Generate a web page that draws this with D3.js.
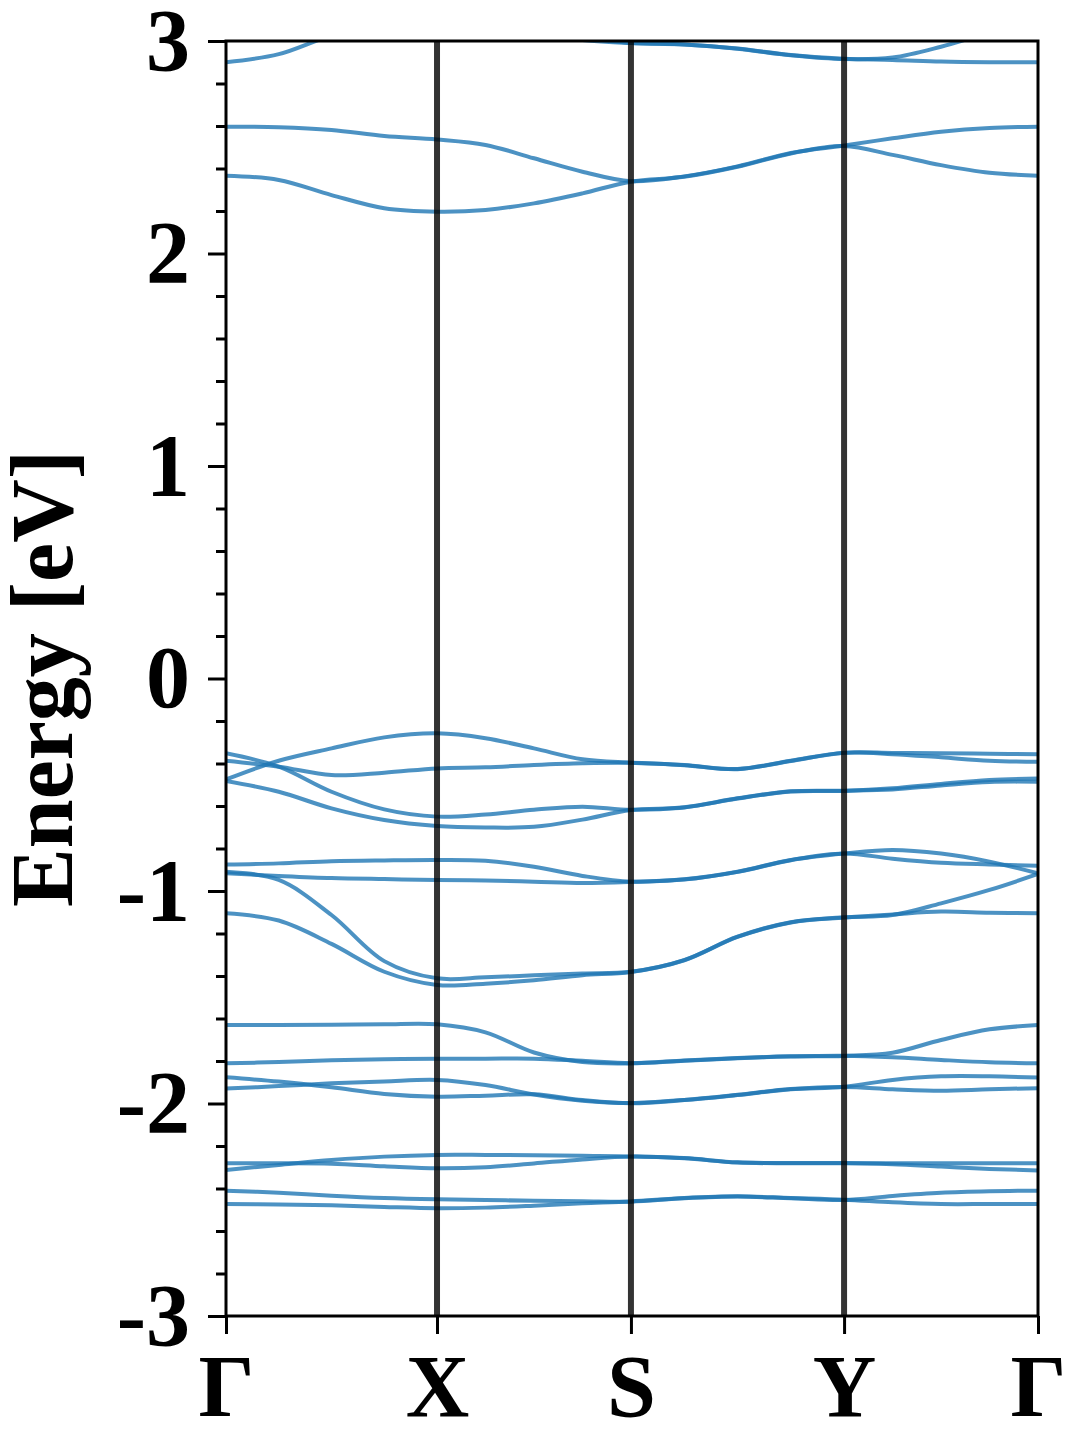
<!DOCTYPE html>
<html>
<head>
<meta charset="utf-8">
<script src="https://cdn.jsdelivr.net/npm/d3@7"></script>
<style>
  html, body { margin: 0; padding: 0; background: #fff; }
  svg { display: block; }
  text { font-family: "Liberation Serif", "Times New Roman", serif; font-weight: bold; fill: #000; }
</style>
</head>
<body>
<svg id="chart" width="1080" height="1440"></svg>
<script>
// ---- data ----
const kLabels = ["Γ", "X", "S", "Y", "Γ"];
const kTicks = [0, 1.000, 1.919, 2.929, 3.848];      // high-symmetry k-distances
const segFractions = [0, 0.25, 0.5, 0.75];             // sample positions inside each segment
const yTickValues = [-3, -2, -1, 0, 1, 2, 3];
const yTickLabels = ["-3", "-2", "-1", "0", "1", "2", "3"];
const yLabel = "Energy [eV]";

// band energies (eV) at the 17 sampled k points along Γ-X-S-Y-Γ
const bandC1 = [2.366, 2.346, 2.275, 2.213, 2.197, 2.205, 2.236, 2.283, 2.338, 2.361, 2.408, 2.471, 2.506, 2.464, 2.416, 2.380, 2.366];
const bandC2 = [2.597, 2.594, 2.581, 2.553, 2.537, 2.511, 2.448, 2.385, 2.340, 2.363, 2.410, 2.473, 2.508, 2.542, 2.573, 2.591, 2.597];
const bandC3 = [2.900, 2.938, 3.025, 3.075, 3.100, 3.080, 3.040, 3.005, 2.990, 2.983, 2.964, 2.933, 2.915, 2.922, 2.973, 3.040, 3.100];
const bandC4 = [3.100, 3.120, 3.150, 3.180, 3.200, 3.150, 3.080, 3.020, 2.991, 2.984, 2.965, 2.934, 2.916, 2.911, 2.903, 2.900, 2.900];
const bandVa = [-0.475, -0.387, -0.329, -0.277, -0.258, -0.281, -0.329, -0.380, -0.396, -0.407, -0.426, -0.387, -0.349, -0.350, -0.352, -0.354, -0.357];
const bandVb = [-0.387, -0.415, -0.454, -0.443, -0.423, -0.418, -0.407, -0.399, -0.397, -0.408, -0.427, -0.388, -0.350, -0.356, -0.371, -0.387, -0.392];
const bandVc = [-0.352, -0.415, -0.533, -0.616, -0.650, -0.640, -0.618, -0.603, -0.618, -0.606, -0.564, -0.531, -0.528, -0.522, -0.503, -0.487, -0.486];
const bandVd = [-0.482, -0.533, -0.611, -0.666, -0.694, -0.701, -0.698, -0.664, -0.619, -0.607, -0.565, -0.532, -0.529, -0.517, -0.496, -0.478, -0.470];
const bandVe = [-0.875, -0.870, -0.860, -0.856, -0.854, -0.858, -0.886, -0.929, -0.956, -0.945, -0.909, -0.854, -0.823, -0.848, -0.867, -0.875, -0.881];
const bandVf = [-0.917, -0.929, -0.939, -0.944, -0.948, -0.951, -0.956, -0.962, -0.957, -0.946, -0.910, -0.855, -0.824, -0.807, -0.824, -0.862, -0.917];
const bandVg = [-0.909, -0.948, -1.113, -1.330, -1.411, -1.406, -1.397, -1.388, -1.380, -1.325, -1.215, -1.147, -1.124, -1.113, -1.058, -0.995, -0.920];
const bandVh = [-1.105, -1.139, -1.249, -1.380, -1.442, -1.436, -1.420, -1.396, -1.381, -1.326, -1.216, -1.148, -1.125, -1.110, -1.097, -1.102, -1.105];
const bandVi = [-1.631, -1.630, -1.629, -1.627, -1.627, -1.665, -1.760, -1.805, -1.811, -1.799, -1.787, -1.779, -1.776, -1.761, -1.701, -1.651, -1.631];
const bandVj = [-1.811, -1.805, -1.797, -1.792, -1.789, -1.789, -1.789, -1.799, -1.810, -1.798, -1.786, -1.778, -1.775, -1.782, -1.795, -1.806, -1.811];
const bandVk = [-1.877, -1.897, -1.924, -1.955, -1.968, -1.963, -1.957, -1.984, -1.999, -1.984, -1.960, -1.933, -1.921, -1.889, -1.872, -1.872, -1.878];
const bandVl = [-1.930, -1.918, -1.905, -1.896, -1.889, -1.913, -1.958, -1.987, -1.998, -1.983, -1.959, -1.932, -1.922, -1.933, -1.940, -1.933, -1.928];
const bandVm = [-2.281, -2.281, -2.283, -2.295, -2.305, -2.300, -2.282, -2.263, -2.250, -2.258, -2.278, -2.281, -2.281, -2.281, -2.281, -2.281, -2.281];
const bandVn = [-2.313, -2.289, -2.266, -2.250, -2.242, -2.242, -2.243, -2.246, -2.249, -2.257, -2.277, -2.280, -2.280, -2.286, -2.297, -2.308, -2.315];
const bandVo = [-2.410, -2.420, -2.434, -2.445, -2.451, -2.454, -2.458, -2.460, -2.462, -2.446, -2.438, -2.446, -2.454, -2.435, -2.420, -2.413, -2.410];
const bandVp = [-2.473, -2.475, -2.479, -2.487, -2.493, -2.490, -2.481, -2.470, -2.461, -2.445, -2.437, -2.445, -2.453, -2.465, -2.473, -2.473, -2.473];

const bands = [bandC1, bandC2, bandC3, bandC4, bandVa, bandVb, bandVc, bandVd, bandVe, bandVf,
               bandVg, bandVh, bandVi, bandVj, bandVk, bandVl, bandVm, bandVn, bandVo, bandVp];

// k grid built from the high-symmetry points
const kGrid = [];
for (let s = 0; s < kTicks.length - 1; s++) {
  segFractions.forEach(f => kGrid.push(kTicks[s] + f * (kTicks[s + 1] - kTicks[s])));
}
kGrid.push(kTicks[kTicks.length - 1]);

// ---- layout ----
const svg = d3.select("#chart");
const plot = { left: 226, right: 1038, top: 41, bottom: 1316 };

const x = d3.scaleLinear().domain([kTicks[0], kTicks[kTicks.length - 1]]).range([plot.left, plot.right]);
const y = d3.scaleLinear().domain([-3, 3]).range([plot.bottom, plot.top]);

svg.append("defs").append("clipPath").attr("id", "clip")
  .append("rect")
  .attr("x", plot.left).attr("y", plot.top)
  .attr("width", plot.right - plot.left).attr("height", plot.bottom - plot.top);

// bands
const line = d3.line()
  .x((d, i) => x(kGrid[i]))
  .y(d => y(d))
  .curve(d3.curveCatmullRom.alpha(0.5));

const bandG = svg.append("g").attr("clip-path", "url(#clip)");
bandG.selectAll("path.band").data(bands).join("path")
  .attr("class", "band")
  .attr("d", line)
  .attr("fill", "none")
  .attr("stroke", "#1f77b4")
  .attr("stroke-opacity", 0.8)
  .attr("stroke-width", 4)
  .attr("stroke-linejoin", "round");

// vertical high-symmetry lines
svg.append("g").selectAll("line.hs").data(kTicks.slice(1, -1)).join("line")
  .attr("class", "hs")
  .attr("x1", d => x(d)).attr("x2", d => x(d))
  .attr("y1", plot.top).attr("y2", plot.bottom)
  .attr("stroke", "#000")
  .attr("stroke-opacity", 0.8)
  .attr("stroke-width", 6);

// y axis (major + minor ticks)
const yAxis = d3.axisLeft(y)
  .tickValues(yTickValues)
  .tickFormat((d, i) => yTickLabels[i])
  .tickSize(18)
  .tickPadding(18);
const yAxisG = svg.append("g").attr("transform", `translate(${plot.left},0)`).call(yAxis);
yAxisG.select(".domain").remove();
yAxisG.selectAll(".tick line").attr("stroke", "#000").attr("stroke-width", 3);
yAxisG.selectAll(".tick text")
  .style("font-family", '"Liberation Serif", "Times New Roman", serif')
  .style("font-weight", "bold")
  .style("font-size", "88px")
  .attr("fill", "#000");

const minorVals = d3.range(-30, 31, 2).map(v => v / 10).filter(v => Math.abs(v - Math.round(v)) > 1e-6);
const yMinor = d3.axisLeft(y).tickValues(minorVals).tickSize(10).tickFormat("");
const yMinorG = svg.append("g").attr("transform", `translate(${plot.left},0)`).call(yMinor);
yMinorG.select(".domain").remove();
yMinorG.selectAll(".tick line").attr("stroke", "#000").attr("stroke-width", 3);

// x axis
const xAxis = d3.axisBottom(x)
  .tickValues(kTicks)
  .tickFormat((d, i) => kLabels[i])
  .tickSize(18)
  .tickPadding(20);
const xAxisG = svg.append("g").attr("transform", `translate(0,${plot.bottom})`).call(xAxis);
xAxisG.select(".domain").remove();
xAxisG.selectAll(".tick line").attr("stroke", "#000").attr("stroke-width", 3);
xAxisG.selectAll(".tick text")
  .style("font-family", '"Liberation Serif", "Times New Roman", serif')
  .style("font-weight", "bold")
  .style("font-size", "88px")
  .attr("fill", "#000");

// frame
svg.append("rect")
  .attr("x", plot.left).attr("y", plot.top)
  .attr("width", plot.right - plot.left).attr("height", plot.bottom - plot.top)
  .attr("fill", "none").attr("stroke", "#000").attr("stroke-width", 3);

// y label
svg.append("text")
  .attr("transform", `translate(72, ${(plot.top + plot.bottom) / 2}) rotate(-90)`)
  .attr("text-anchor", "middle")
  .style("font-size", "88px")
  .text(yLabel);
</script>
</body>
</html>
